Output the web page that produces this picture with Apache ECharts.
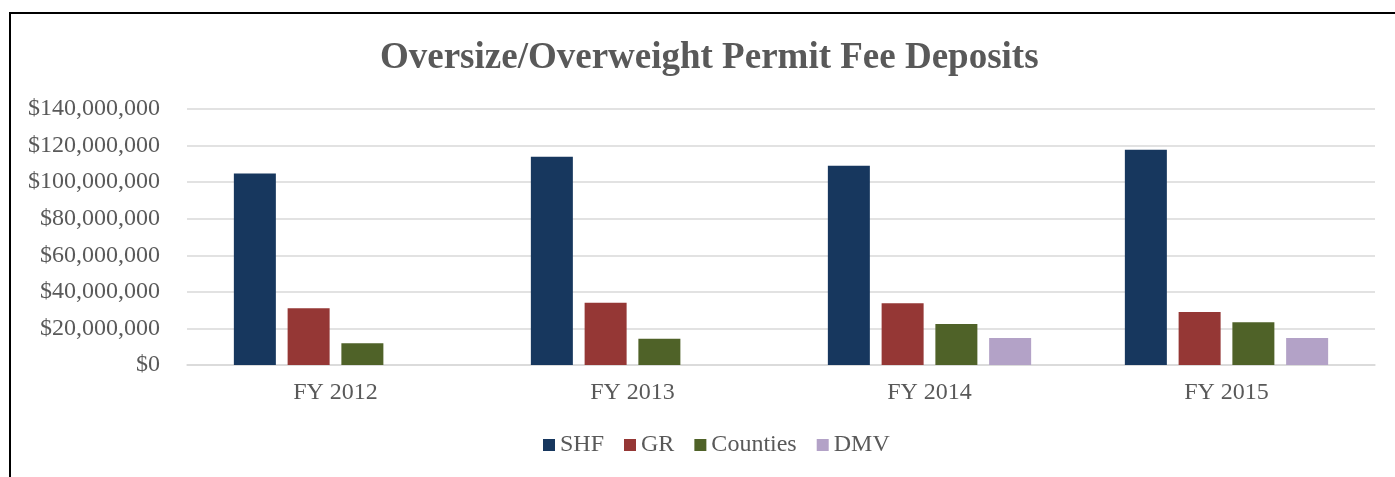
<!DOCTYPE html>
<html>
<head>
<meta charset="utf-8">
<script src="https://cdn.jsdelivr.net/npm/echarts@6/dist/echarts.min.js"></script>
<style>
  html, body { margin: 0; padding: 0; background: #fff; }
  #chart { position: absolute; left: 0; top: 0; width: 1395px; height: 477px; }
  #frame { position: absolute; left: 9px; top: 12px; width: 1500px; height: 600px;
           border-top: 2px solid #000; border-left: 2px solid #000; pointer-events: none; }
</style>
</head>
<body>
<div id="chart"></div>
<div id="frame"></div>
<script>
// data
const categories = ['FY 2012', 'FY 2013', 'FY 2014', 'FY 2015']
const shf = [104700000, 113900000, 109000000, 117700000]
const gr = [31000000, 34100000, 33800000, 29000000]
const counties = [11900000, 14300000, 22400000, 23400000]
const dmv = [null, null, 14800000, 14800000]

const font = 'Liberation Serif'
const textColor = '#595959'

let myChart = echarts.init(document.getElementById('chart'))

function bar(name, data, color) {
  return {
    name: name,
    type: 'bar',
    data: data,
    barWidth: 42,
    barGap: '28%',
    itemStyle: { color: color },
    emphasis: { disabled: true }
  }
}

myChart.setOption({
  animation: false,
  title: {
    text: 'Oversize/Overweight Permit Fee Deposits',
    left: 375,
    top: 35,
    textStyle: { fontFamily: font, fontSize: 37, fontWeight: 'bold', color: textColor }
  },
  legend: {
    bottom: 15,
    left: 538,
    icon: 'rect',
    itemWidth: 12,
    itemHeight: 12,
    itemGap: 20,
    textStyle: { fontFamily: font, fontSize: 24, color: textColor },
    data: ['SHF', 'GR', 'Counties', 'DMV']
  },
  grid: { left: 187, right: 20, top: 109, bottom: 112 },
  xAxis: {
    type: 'category',
    data: categories,
    axisLine: { lineStyle: { color: '#D9D9D9', width: 1.5 } },
    axisTick: { show: false },
    axisLabel: { fontFamily: font, fontSize: 24, color: textColor, margin: 16 }
  },
  yAxis: {
    type: 'value',
    min: 0,
    max: 140000000,
    interval: 20000000,
    axisLine: { show: false },
    axisTick: { show: false },
    axisLabel: {
      fontFamily: font, fontSize: 24, color: textColor, margin: 27,
      formatter: v => '$' + v.toLocaleString('en-US')
    },
    splitLine: { lineStyle: { color: '#D9D9D9', width: 1.5 } }
  },
  series: [
    bar('SHF', shf, '#17375E'),
    bar('GR', gr, '#953735'),
    bar('Counties', counties, '#4F6228'),
    bar('DMV', dmv, '#B3A2C7')
  ]
})
</script>
</body>
</html>
